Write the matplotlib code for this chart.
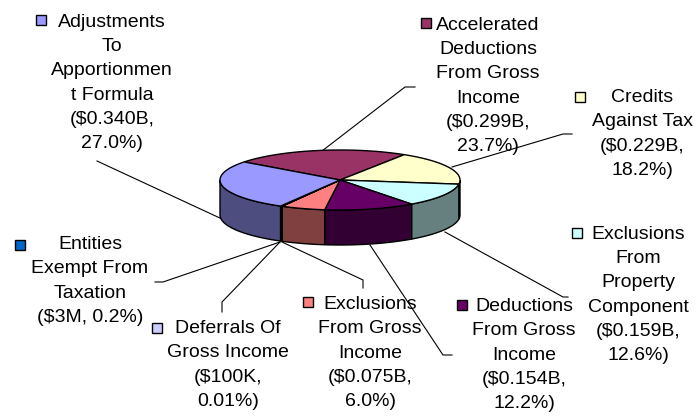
import numpy as np
import matplotlib.pyplot as plt
from matplotlib.colors import to_rgb
from matplotlib.patches import Polygon, Rectangle

plt.rcParams['font.family'] = ['Liberation Sans', 'DejaVu Sans']

# slices, clockwise from the top-left boundary
names = ["Accelerated\nDeductions\nFrom Gross\nIncome",
         "Credits\nAgainst Tax",
         "Exclusions\nFrom\nProperty\nComponent",
         "Deductions\nFrom Gross\nIncome",
         "Exclusions\nFrom Gross\nIncome",
         "Deferrals Of\nGross Income",
         "Entities\nExempt From\nTaxation",
         "Adjustments\nTo\nApportionmen\nt Formula"]
amounts = ["$0.299B", "$0.229B", "$0.159B", "$0.154B", "$0.075B", "$100K", "$3M", "$0.340B"]
pcts = ["23.7%", "18.2%", "12.6%", "12.2%", "6.0%", "0.01%", "0.2%", "27.0%"]
shares = [23.7, 18.2, 12.6, 12.2, 6.0, 0.01, 0.2, 27.0]
colors = ["#993366", "#FFFFCC", "#CCFFFF", "#660066", "#FF8080", "#CCCCFF", "#0066CC", "#9999FF"]

# label layout (pixel coords): text centre, key square top-left, leader polyline
text_pos = [(488, 86), (642, 134), (638, 295), (524, 355), (370, 353), (228, 365), (90, 281), (112, 83)]
key_pos = [(421, 18), (575, 92), (572, 228), (457, 300), (303, 297), (152, 323), (15, 240), (36, 15)]
leaders = [[(415, 87), (405, 87), (322, 151)],
           [(572, 134), (563, 134), (452, 167)],
           [(568, 297), (563, 297), (445, 232)],
           [(452, 355), (443, 355), (370, 245)],
           [(363, 288), (363, 280), (282, 242)],
           [(222, 312), (222, 302), (280, 242)],
           [(155, 282), (163, 282), (280, 242)],
           [(97, 161), (222, 219)]]

fig = plt.figure(figsize=(6.96, 4.16), dpi=100)
ax = fig.add_axes([0, 0, 1, 1])
ax.set_xlim(0, 696)
ax.set_ylim(416, 0)
ax.axis('off')

cx, cy, rx, ry, depth = 340, 180, 120, 30, 35
start = 143.0
total = sum(shares)

def arc(a1, a2, dy=0, n=60):
    t = np.radians(np.linspace(a1, a2, n))
    return np.column_stack([cx + rx * np.cos(t), cy - ry * np.sin(t) + dy])

a = start
for share, col in zip(shares, colors):
    span = share / total * 360
    a1, a2 = a, a - span
    a = a2
    # front wall (visible where the ellipse faces the viewer)
    hi, lo = min(a1, 0), max(a2, -180)
    if hi > lo:
        top = arc(hi, lo)
        bot = arc(lo, hi, depth)
        side_col = tuple(0.5 * c for c in to_rgb(col))
        ax.add_patch(Polygon(np.vstack([top, bot]), closed=True, fc=side_col,
                             ec='black', lw=1, zorder=2))
    pts = np.vstack([[cx, cy], arc(a1, a2)])
    ax.add_patch(Polygon(pts, closed=True, fc=col, ec='black', lw=1, zorder=3))

for i in range(len(names)):
    value = f"({amounts[i]}, {pcts[i]})"
    if len(value) > 11:
        value = value.replace(", ", ",\n")
    ax.text(text_pos[i][0], text_pos[i][1], f"{names[i]}\n{value}", ha='center', va='center',
            multialignment='center', fontsize=14, linespacing=1.56, zorder=4)
    kx, ky = key_pos[i]
    ax.add_patch(Rectangle((kx, ky), 10, 10, fc=colors[i], ec='black', lw=1, zorder=4))
    xs, ys = zip(*leaders[i])
    ax.plot(xs, ys, color='black', lw=0.8, zorder=1)

fig.savefig("out.png", dpi=100)
